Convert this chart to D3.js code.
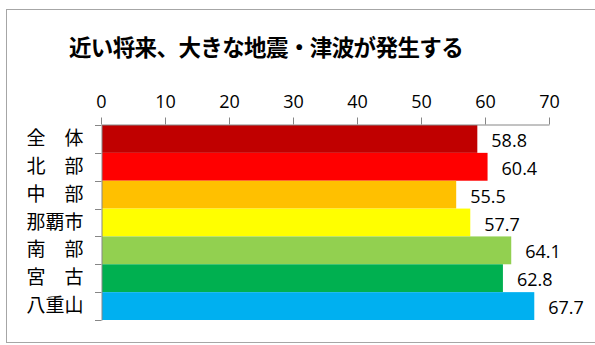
<!DOCTYPE html>
<html>
<head>
<meta charset="utf-8">
<script src="https://cdn.jsdelivr.net/npm/d3@7"></script>
<style>
  body { margin: 0; background: #fff; }
  svg { display: block; }
</style>
</head>
<body>
<div id="chart"></div>
<script>
// data
var categories = ["全　体", "北　部", "中　部", "那覇市", "南　部", "宮　古", "八重山"];
var values = [58.8, 60.4, 55.5, 57.7, 64.1, 62.8, 67.7];
var colors = ["#C00000", "#FF0000", "#FFC000", "#FFFF00", "#92D050", "#00B050", "#00B0F0"];
var tickValues = [0, 10, 20, 30, 40, 50, 60, 70];
var title = "近い将来、大きな地震・津波が発生する";

var width = 595, height = 345;
var margin = {top: 124, left: 101, right: 46, bottom: 25};

var svg = d3.select("#chart").append("svg")
    .attr("width", width)
    .attr("height", height);

// outer frame
svg.append("rect")
    .attr("x", 6.5).attr("y", 9.5)
    .attr("width", 600).attr("height", 333)
    .attr("fill", "#fff")
    .attr("stroke", "#a6a6a6")
    .attr("stroke-width", 1);

svg.append("text")
    .attr("x", 266).attr("y", 56)
    .attr("text-anchor", "middle")
    .style("font-family", "'Noto Sans CJK JP', sans-serif")
    .style("font-weight", "bold")
    .style("font-size", "22.5px")
    .style("letter-spacing", "-0.6px")
    .attr("fill", "#000")
    .text(title);

var x = d3.scaleLinear().domain([0, 70]).range([margin.left, margin.left + 448]);
var y = d3.scaleBand().domain(categories).range([margin.top + 1, 320]).padding(0);

// bars
svg.selectAll("rect.bar")
    .data(values)
    .enter().append("rect")
    .attr("class", "bar")
    .attr("x", x(0) + 1)
    .attr("y", function(d, i) { return y(categories[i]); })
    .attr("width", function(d) { return x(d) - x(0) - 1; })
    .attr("height", y.bandwidth())
    .attr("fill", function(d, i) { return colors[i]; });

// value labels
svg.selectAll("text.val")
    .data(values)
    .enter().append("text")
    .attr("class", "val")
    .attr("x", function(d) { return x(d) + 14; })
    .attr("y", function(d, i) { return y(categories[i]) + y.bandwidth() / 2 + 8; })
    .style("font-family", "'Open Sans', sans-serif")
    .style("font-size", "18px")
    .attr("fill", "#000")
    .text(function(d) { return d.toFixed(1); });

// top axis
var xAxis = svg.append("g")
    .attr("transform", "translate(0," + (margin.top + 0.5) + ")")
    .call(d3.axisTop(x).tickValues(tickValues).tickSize(7).tickSizeOuter(0).tickPadding(10));
xAxis.selectAll("line, path").attr("stroke", "#868686");
xAxis.selectAll("text")
    .style("font-family", "'Open Sans', sans-serif")
    .style("font-size", "18px")
    .attr("fill", "#000");

// left axis
var yAxis = svg.append("g")
    .attr("transform", "translate(" + (margin.left + 0.5) + ",0)")
    .call(d3.axisLeft(y).tickSize(0).tickPadding(18));
yAxis.select("path").attr("stroke", "#868686");
yAxis.selectAll("text")
    .style("font-family", "'Noto Sans CJK JP', sans-serif")
    .style("font-size", "19px")
    .attr("fill", "#000");

// category boundary ticks
var bounds = categories.map(function(c) { return y(c); }).concat([y.range()[1]]);
svg.selectAll("line.ytick")
    .data(bounds)
    .enter().append("line")
    .attr("class", "ytick")
    .attr("x1", margin.left - 6).attr("x2", margin.left + 0.5)
    .attr("y1", function(d) { return Math.round(d) + 0.5; })
    .attr("y2", function(d) { return Math.round(d) + 0.5; })
    .attr("stroke", "#868686");
</script>
</body>
</html>
